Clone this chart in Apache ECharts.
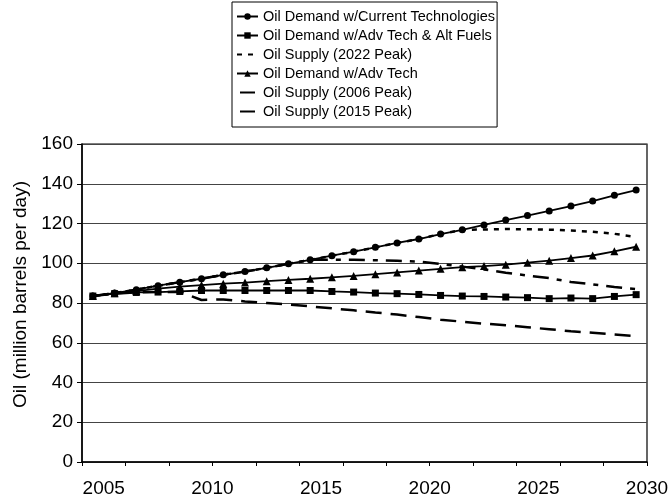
<!DOCTYPE html>
<html><head><meta charset="utf-8">
<script src="https://cdn.jsdelivr.net/npm/echarts@6/dist/echarts.min.js"></script>
<style>html,body{margin:0;padding:0;background:#fff}#c{width:672px;height:498px}</style>
</head><body><div id="c"></div><script>
const years = [2005,2006,2007,2008,2009,2010,2011,2012,2013,2014,2015,2016,2017,2018,2019,2020,2021,2022,2023,2024,2025,2026,2027,2028,2029,2030];
const xLabelYears = [2005,2010,2015,2020,2025,2030];
const yMin = 0, yMax = 160, yStep = 20;
const demandCurrent = [83.5,85,86.7,88.7,90.5,92.2,94.2,95.8,97.7,99.7,101.7,103.8,105.8,108,110.2,112.2,114.7,116.8,119.3,121.7,124,126.3,128.8,131.3,134.2,136.8];
const demandAdvAlt = [83.5,84.7,85.3,85.5,85.8,86.3,86.3,86.3,86.3,86.3,86.3,85.8,85.5,85,84.7,84.3,83.8,83.5,83.3,83,82.7,82.2,82.5,82.2,83.3,84.2];
const supply2022 = [83.5,85,86.7,88.7,90.5,92.2,94.2,95.8,97.7,99.7,101.7,103.8,105.8,108,110.2,112.2,114.7,116.8,117,117.2,117.1,116.9,116.5,115.8,114.8,113.2];
const demandAdv = [83.5,84.9,86,87.2,88.2,89,89.7,90.3,91,91.6,92.2,92.9,93.6,94.5,95.4,96.3,97.2,98,98.6,99.3,100.3,101.3,102.6,103.9,106,108.3];
const supply2006 = [83.5,84.7,85.3,85.5,85.6,81.5,81.8,80.8,80,79.2,78.3,77.3,76.3,75.2,74.2,72.9,71.6,70.6,69.6,68.8,67.8,66.8,65.8,65,64.2,63.3];
const supply2015 = [83.5,85,86.7,88.7,90.5,92.2,94.2,95.8,97.7,99.7,101.7,101.8,101.7,101.5,101.2,100.8,99.6,98.3,96.9,95.2,93.8,92.5,90.6,89.4,88,87];
const names = ['Oil Demand w/Current Technologies','Oil Demand w/Adv Tech & Alt Fuels','Oil Supply (2022 Peak)','Oil Demand w/Adv Tech','Oil Supply (2006 Peak)','Oil Supply (2015 Peak)'];

const FONT = '"Liberation Sans", Arial, sans-serif';
const chart = echarts.init(document.getElementById('c'), null, {renderer:'canvas'});
const solid = (w) => ({color:'#000', width:w, type:'solid'});
const CLEAR = 'rgba(0,0,0,0)';
const legendIconLine = {type:[15,30], dashOffset:-3};
chart.setOption({
  backgroundColor:'#fff',
  animation:false,
  textStyle:{fontFamily:FONT, color:'#000'},
  grid:{left:82, right:25, top:144, bottom:35, show:true, borderColor:'#000', borderWidth:1.2, backgroundColor:'transparent'},
  legend:{
    orient:'vertical', left:232, top:2,
    padding:[6,2,7,4], itemGap:2, itemWidth:21, itemHeight:8,
    borderColor:'#000', borderWidth:1, backgroundColor:'#fff',
    textStyle:{fontFamily:FONT, fontSize:14.5, color:'#000', lineHeight:17},
    data:[
      {name:names[0]}, {name:names[1]}, {name:names[2]}, {name:names[3]},
      {name:names[4], lineStyle:legendIconLine},
      {name:names[5], lineStyle:legendIconLine}
    ]
  },
  xAxis:[
    {type:'category', data:years, boundaryGap:true,
     axisLine:{show:true, lineStyle:{color:'#000', width:1.5}},
     axisTick:{show:true, inside:false, length:4, lineStyle:{color:'#000'}},
     axisLabel:{show:false}, splitLine:{show:false}},
    {type:'value', position:'bottom', min:years[0]-1, max:years[years.length-1], interval:1,
     axisLine:{show:false}, axisTick:{show:false}, splitLine:{show:false},
     axisLabel:{show:true, margin:17, fontSize:19, fontFamily:FONT, color:'#000',
       showMinLabel:true, showMaxLabel:true,
       formatter:(v)=> xLabelYears.indexOf(v)>=0 ? String(v) : ''}}
  ],
  yAxis:{type:'value', min:yMin, max:yMax, interval:yStep,
    name:'Oil (million barrels per day)', nameLocation:'middle', nameGap:50,
    nameTextStyle:{fontFamily:FONT, fontSize:19, color:'#000', padding:[0,0,0,17]},
    axisLine:{show:true, lineStyle:{color:'#000', width:1.5}},
    axisTick:{show:true, length:5, lineStyle:{color:'#000'}},
    axisLabel:{fontSize:19, fontFamily:FONT, color:'#000', margin:9},
    splitLine:{show:true, lineStyle:{color:'#444', width:1.2}}},
  series:[
    {name:names[4], type:'line', data:supply2006, showSymbol:false, symbol:'none', z:2,
     lineStyle:{color:'#000', width:2.5, type:[16,9]}, itemStyle:{color:CLEAR, borderColor:CLEAR}},
    {name:names[5], type:'line', data:supply2015, showSymbol:false, symbol:'none', z:2,
     lineStyle:{color:'#000', width:2.5, type:[16,8,5,8]}, itemStyle:{color:CLEAR, borderColor:CLEAR}},
    {name:names[2], type:'line', data:supply2022, showSymbol:false, symbol:'none', z:2,
     lineStyle:{color:'#000', width:2.5, type:[5,6]}, itemStyle:{color:CLEAR, borderColor:CLEAR}},
    {name:names[0], type:'line', data:demandCurrent, symbol:'circle', symbolSize:7, z:3,
     lineStyle:solid(1.8), itemStyle:{color:'#000'}},
    {name:names[1], type:'line', data:demandAdvAlt, symbol:'rect', symbolSize:7, z:3,
     lineStyle:solid(1.8), itemStyle:{color:'#000'}},
    {name:names[3], type:'line', data:demandAdv, symbol:'triangle', symbolSize:8, z:3,
     lineStyle:solid(1.8), itemStyle:{color:'#000'}}
  ]
});
</script></body></html>
